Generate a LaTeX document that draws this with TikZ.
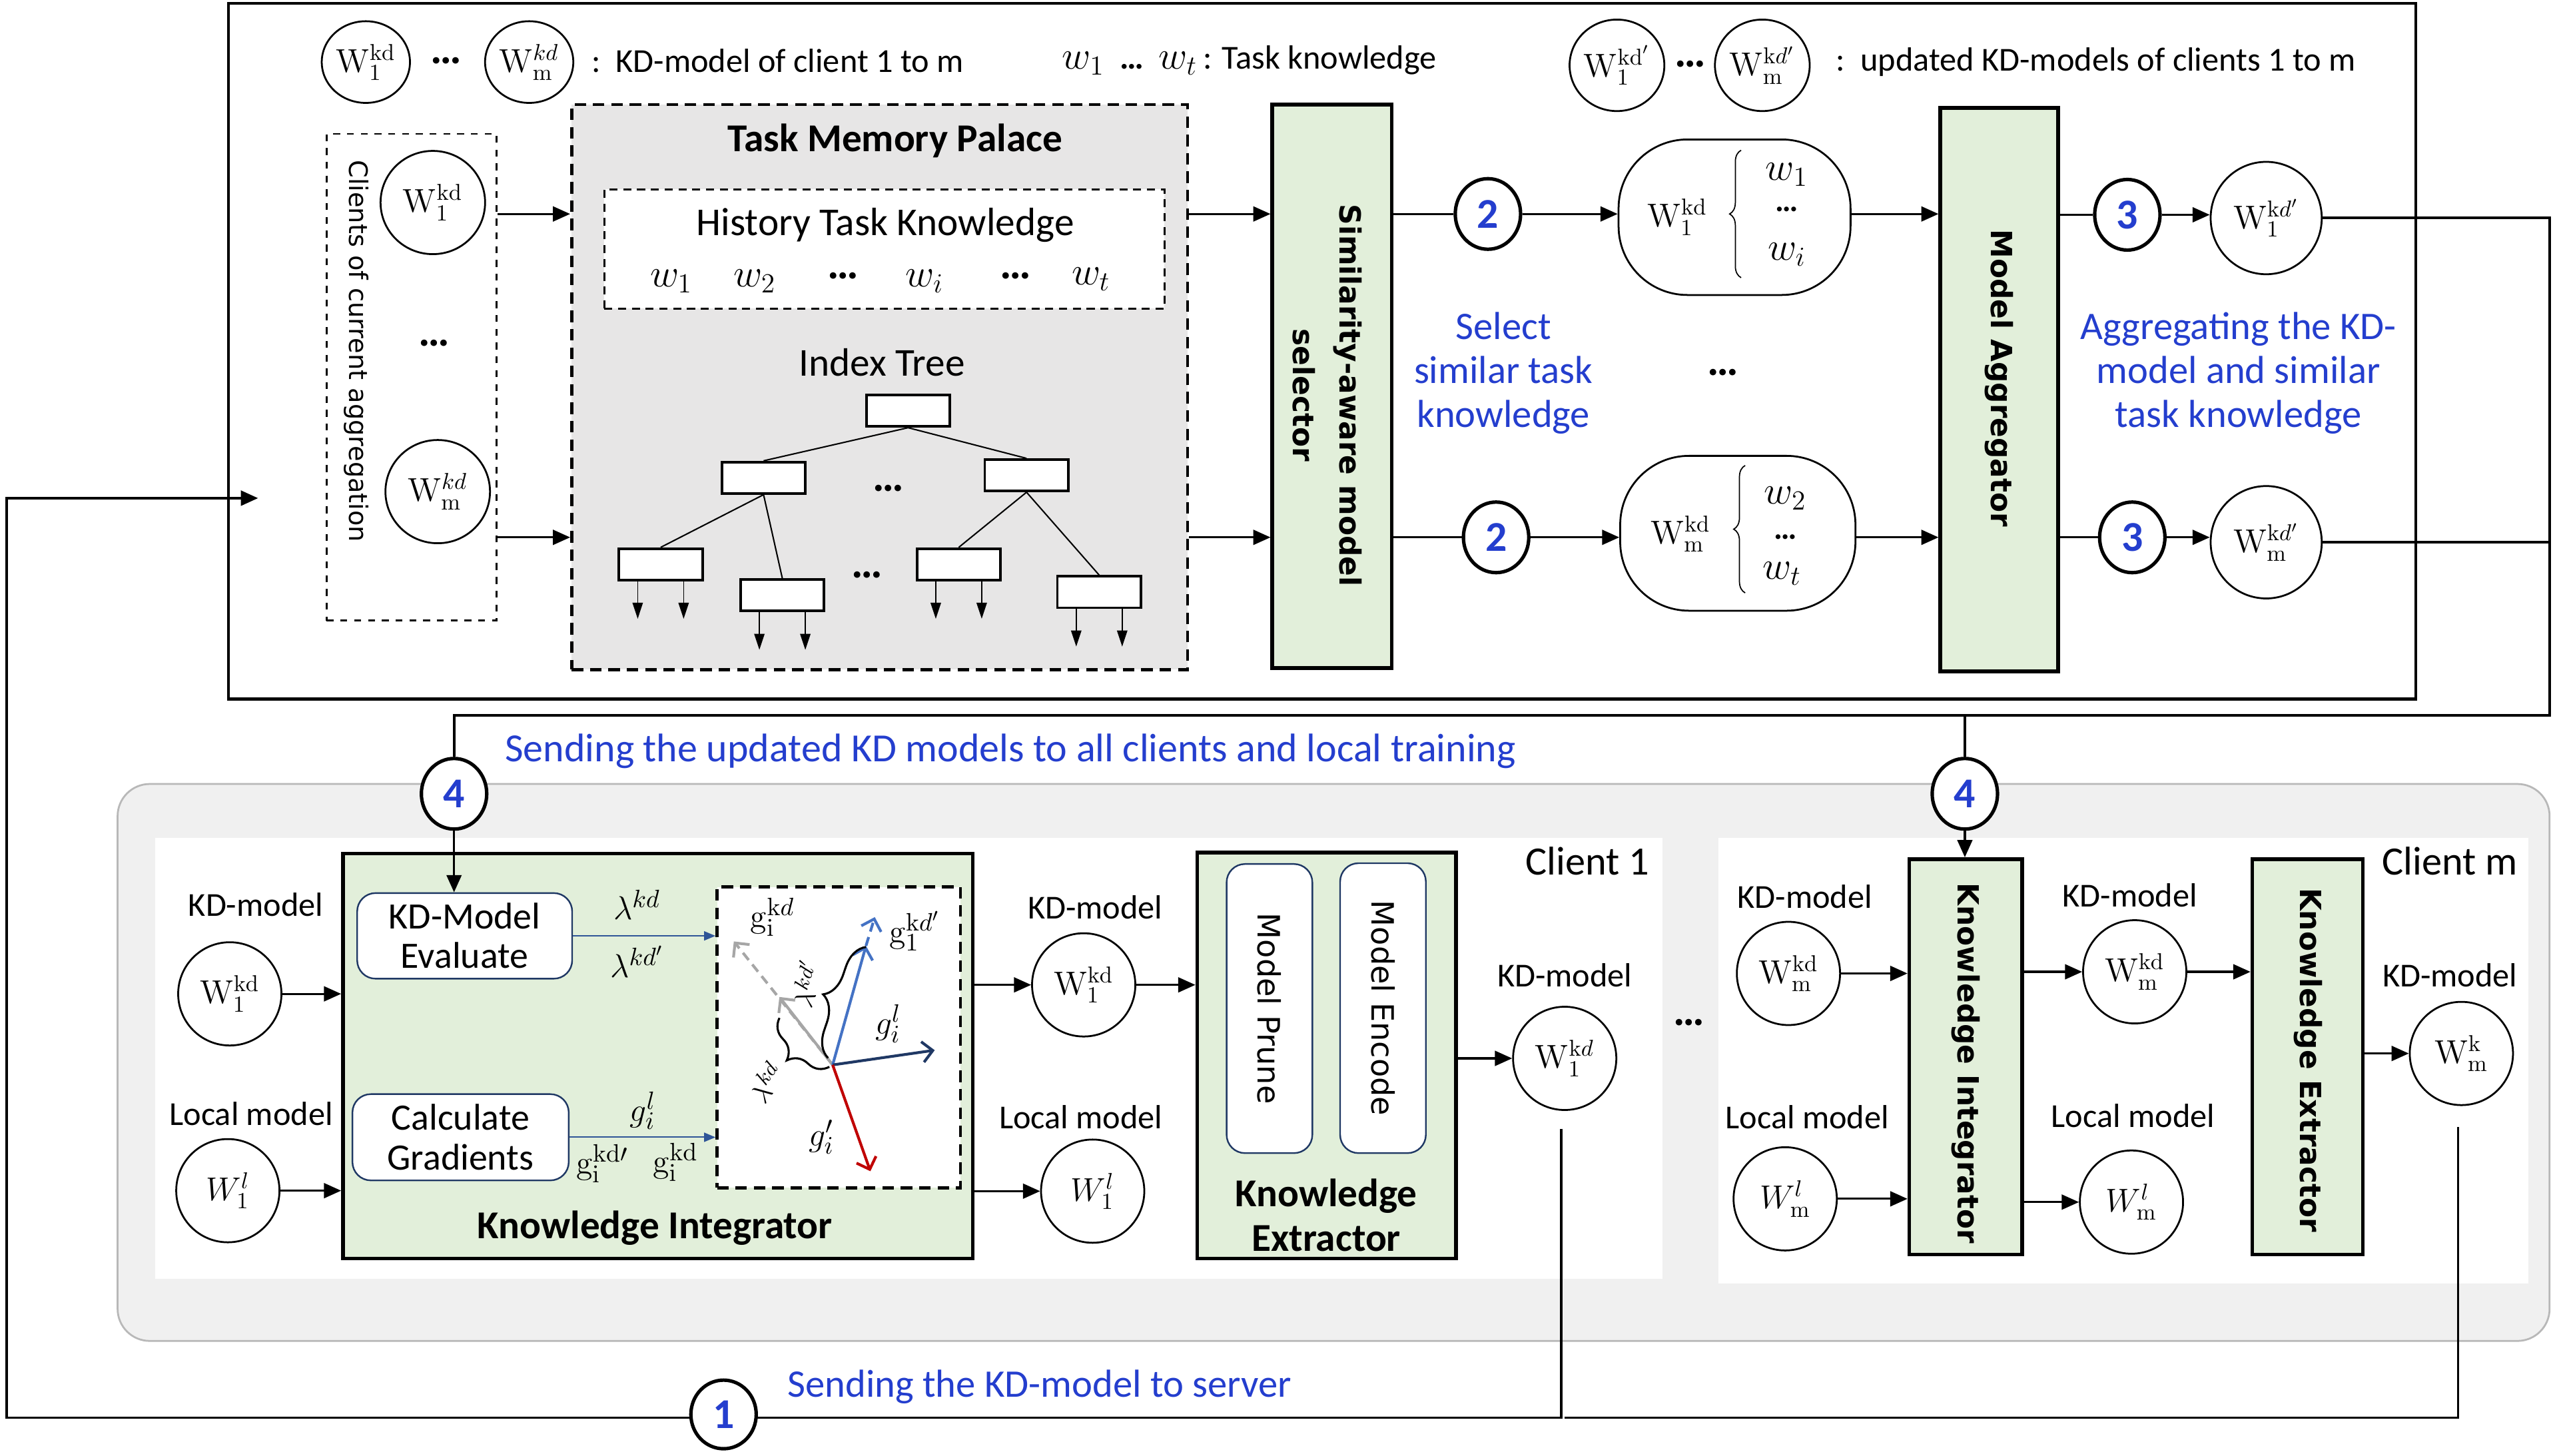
\documentclass[tikz,border=0pt]{standalone}
\usepackage[no-math]{fontspec}
\setmainfont{Carlito}
\newfontfamily\vfont{DejaVu Sans}
\usetikzlibrary{arrows.meta,shapes.geometric,fit,decorations.pathreplacing,calc}

\definecolor{kgreen}{RGB}{226,239,218}
\definecolor{kgray}{RGB}{231,230,230}
\definecolor{kblue}{RGB}{36,62,206}
\definecolor{bgray}{RGB}{240,240,240}
\definecolor{vblue}{RGB}{68,114,196}
\definecolor{vnavy}{RGB}{31,56,100}
\definecolor{vred}{RGB}{192,0,0}
\definecolor{vgray}{RGB}{166,166,166}
\definecolor{bnavy}{RGB}{47,85,151}

\newcommand{\szS}{\fontsize{14.6}{17}\selectfont}
\newcommand{\szM}{\fontsize{17.2}{19.3}\selectfont}
\newcommand{\szW}{\fontsize{14.4}{17}\selectfont}
\newcommand{\szMath}{\fontsize{15.5}{17}\selectfont}
\newcommand{\szBig}{\fontsize{17.28}{19}\selectfont}
\newcommand{\szRot}{\vfont\bfseries\fontsize{12.7}{20.3}\selectfont}

\tikzset{
  every node/.style={inner sep=0pt},
  arr/.style={-{Triangle[length=7.5pt,width=6.5pt]}, line width=0.9pt},
  flow/.style={line width=1.1pt},
  model/.style={draw, ellipse, line width=0.8pt, fill=white, minimum width=1.58cm, minimum height=1.58cm, font=\szW},
  num/.style={draw, ellipse, line width=1.5pt, fill=white, minimum width=1.0cm, minimum height=1.08cm, text=kblue, font=\fontsize{18.5}{20}\selectfont\bfseries},
  gbox/.style={draw, line width=1.6pt, fill=kgreen},
  tbox/.style={draw, line width=1.1pt, fill=white, minimum width=1.28cm, minimum height=0.48cm},
  tarr/.style={-{Triangle[length=7pt,width=4.5pt]}, line width=0.5pt},
  wbox/.style={draw=vnavy, line width=0.7pt, fill=white, rounded corners=8pt},
  barr/.style={-{Triangle[length=5pt,width=4pt]}, line width=0.6pt, draw=bnavy},
  vec/.style={line width=1.2pt, -{Straight Barb[length=4.5pt,width=9pt]}},
  bcap/.style={text=kblue, font=\fontsize{17}{19.2}\selectfont, align=center},
  lab/.style={font=\szS},
  dots/.style={font=\fontsize{19}{20}\selectfont\bfseries},
  kbox/.style={draw, line width=0.8pt, fill=white, rounded corners=30pt},
  brc/.style={decorate, decoration={brace, amplitude=5pt}, line width=0.5pt},
}

\begin{document}
\begin{tikzpicture}[x=0.025cm,y=-0.025cm]
\useasboundingbox[fill=white] (0,0) rectangle (1568,891.46);

% server frame
\node[draw, line width=1.2pt, fit={(140,2) (1479,428)}] (server) {};

% client area
\node[draw=black!28, line width=0.8pt, fill=bgray, rounded corners=14pt, fit={(72,480) (1561,821)}] (carea) {};
\node[fill=white, fit={(95,513) (1018,783)}] (cl1) {};
\node[fill=white, fit={(1052,513) (1548,786)}] (clm) {};

% legend
\node[model, minimum width=1.35cm, minimum height=1.25cm] (lgA) at (224,38) {$\mathrm{W}_1^{\mathrm{kd}}$};
\node[dots] (lgAd) at (273,37) {…};
\node[model, minimum width=1.35cm, minimum height=1.25cm] (lgB) at (324,38) {$\mathrm{W}_{\mathrm{m}}^{kd}$};
\node[lab, anchor=west] (lgAt) at (362,37) {:\ \ KD-model of client 1 to m};
\node[lab, anchor=west] (lgW) at (650,37) {{\szBig$w_1$}\ \ {\bfseries …}\ \ {\szBig$w_t$}\,: Task knowledge};
\node[model, minimum width=1.45cm, minimum height=1.4cm] (lgC) at (990,40) {$\mathrm{W}_1^{\mathrm{kd}'}$};
\node[dots] (lgCd) at (1035,39) {…};
\node[model, minimum width=1.45cm, minimum height=1.4cm] (lgD) at (1079,40) {$\mathrm{W}_{\mathrm{m}}^{\mathrm{k}d'}$};
\node[lab, anchor=west] (lgDt) at (1124,38) {:\ \ updated KD-models of clients 1 to m};

\coordinate (r1) at (0,131);
\coordinate (r2) at (0,329);

% clients of current aggregation
\node[draw, dashed, line width=0.8pt, fit={(200,82) (304,380)}] (cbox) {};
\node[rotate=-90, font=\vfont\fontsize{11.1}{13}\selectfont] (cboxt) at (218,215) {Clients of current aggregation};
\node[model, minimum width=1.6cm, minimum height=1.58cm] (ca) at (265,124) {$\mathrm{W}_1^{\mathrm{kd}}$};
\node[dots] (cad) at (266,210) {…};
\node[model, minimum width=1.6cm, minimum height=1.58cm] (cb) at (268,301) {$\mathrm{W}_{\mathrm{m}}^{kd}$};

% task memory palace
\node[draw, line width=1.3pt, dash pattern=on 5pt off 3pt, fill=kgray, fit={(350,64) (727,410)}] (tmp) {};
\node[font=\szM\bfseries] (tmpt) at (548,86) {Task Memory Palace};
\node[draw, line width=0.8pt, dash pattern=on 3.5pt off 2.5pt, fill=white, fit={(370,116) (713,189)}] (hist) {};
\node[font=\szM] (histt) at (542,138) {History Task Knowledge};
\node[font=\szBig] (hw1) at (411,172) {$w_1$};
\node[font=\szBig] (hw2) at (462,172) {$w_2$};
\node[dots] (hwd1) at (516,169) {…};
\node[font=\szBig] (hwi) at (566,172) {$w_i$};
\node[dots] (hwd2) at (622,169) {…};
\node[font=\szBig] (hwt) at (668,171) {$w_t$};

\node[font=\szM] (itree) at (540,222) {Index Tree};
\node[tbox] (t0) at (556,251.5) {};
\node[tbox] (t1) at (467.5,292.5) {};
\node[tbox] (t2) at (628.5,291) {};
\node[tbox] (t3) at (404.5,345.5) {};
\node[tbox] (t4) at (479,364.5) {};
\node[tbox] (t5) at (587,345.5) {};
\node[tbox] (t6) at (673,362.5) {};
\node[dots] (td1) at (544,299) {…};
\node[dots] (td2) at (531,352) {…};
\draw[line width=0.6pt] (t0.south) -- (t1.north);
\draw[line width=0.6pt] (t0.south) -- (t2.north);
\draw[line width=0.6pt] (t1.south) -- (t3.north);
\draw[line width=0.6pt] (t1.south) -- (t4.north);
\draw[line width=0.6pt] (t2.south) -- (t5.north);
\draw[line width=0.6pt] (t2.south) -- (t6.north);
\foreach \n in {t3,t4,t5,t6}{
  \draw[tarr] ([xshift=-10pt]\n.south) -- ++(0,23);
  \draw[tarr] ([xshift=10pt]\n.south) -- ++(0,23);
}

\draw[arr] (cbox.east |- r1) -- (tmp.west |- r1);
\draw[arr] (cbox.east |- r2) -- (tmp.west |- r2);

% selector
\node[gbox, fit={(779,64) (852,409)}] (sel) {};
\node[rotate=-90, font=\szRot, align=center] (selt) at (812.5,242) {Similarity-aware model\\selector};
\draw[arr] (tmp.east |- r1) -- (sel.west |- r1);
\draw[arr] (tmp.east |- r2) -- (sel.west |- r2);

\node[num] (c2a) at (911,131) {2};
\node[num] (c2b) at (916,329) {2};
\draw[line width=0.9pt] (sel.east |- c2a) -- (c2a);
\draw[line width=0.9pt] (sel.east |- c2b) -- (c2b);

% selected knowledge nodes
\node[kbox, minimum width=3.55cm, minimum height=2.38cm] (k1) at (1062,133) {};
\node[font=\szW] (k1w) at (1027,133) {$\mathrm{W}_1^{\mathrm{kd}}$};
\draw[brc] (1066,170) -- (1066,92);
\node[font=\szBig] (k1a) at (1094,107) {$w_1$};
\node[dots, font=\fontsize{14}{15}\selectfont\bfseries] (k1b) at (1094,128) {…};
\node[font=\szBig] (k1c) at (1094,156) {$w_i$};

\node[kbox, minimum width=3.6cm, minimum height=2.37cm] (k2) at (1064,326.5) {};
\node[font=\szW] (k2w) at (1029,327) {$\mathrm{W}_{\mathrm{m}}^{\mathrm{kd}}$};
\draw[brc] (1068.5,363) -- (1068.5,285);
\node[font=\szBig] (k2a) at (1093,305) {$w_2$};
\node[dots, font=\fontsize{14}{15}\selectfont\bfseries] (k2b) at (1093,329) {…};
\node[font=\szBig] (k2c) at (1091,351) {$w_t$};

\draw[arr] (c2a) -- (c2a -| k1.west);
\draw[arr] (c2b) -- (c2b -| k2.west);

% aggregator
\node[gbox, fit={(1188,66) (1260,411)}] (agg) {};
\node[rotate=-90, font=\szRot] (aggt) at (1224,231.5) {Model Aggregator};
\draw[arr] (k1.east |- r1) -- (agg.west |- r1);
\draw[arr] (k2.east |- r2) -- (agg.west |- r2);

\node[num] (c3a) at (1302.5,131.5) {3};
\node[num] (c3b) at (1305.5,329) {3};
\draw[line width=0.9pt] (agg.east |- c3a) -- (c3a);
\draw[line width=0.9pt] (agg.east |- c3b) -- (c3b);
\node[model, minimum width=1.7cm, minimum height=1.72cm] (u1) at (1387.5,133.5) {$\mathrm{W}_1^{\mathrm{k}d'}$};
\node[model, minimum width=1.7cm, minimum height=1.72cm] (u2) at (1387.5,332) {$\mathrm{W}_{\mathrm{m}}^{\mathrm{k}d'}$};
\draw[arr] (c3a) -- (c3a -| u1.west);
\draw[arr] (c3b) -- (c3b -| u2.west);

\node[bcap] (cap2) at (920.5,228.5) {Select\\similar task\\knowledge};
\node[dots] (kdots) at (1055,228) {…};
\node[bcap] (cap3) at (1370.5,228.5) {Aggregating the KD-\\model and similar\\task knowledge};

% update flow
\coordinate (cR) at (1561,438);
\node[num] (c4a) at (278,486) {4};
\node[num] (c4b) at (1203,486) {4};
\draw[flow] (u1.east) -- (u1.east -| cR) -- (cR) -- (cR -| c4a) -- (c4a.north);
\draw[flow] (u2.east) -- (u2.east -| cR);
\draw[flow] (cR -| c4b) -- (c4b.north);
\node[bcap, anchor=west, font=\fontsize{17.4}{19.2}\selectfont] (capu) at (309,460) {Sending the updated KD models to all clients and local training};

% ===== client 1 =====
\node[lab] (l1a) at (156.6,554) {KD-model};
\node[model] (m1a) at (140.7,608.5) {$\mathrm{W}_1^{\mathrm{kd}}$};
\node[lab] (l1b) at (153.8,682) {Local model};
\node[model] (m1b) at (139.5,729) {$W_1^{l}$};
\node[gbox, fit={(210,522.5) (595.5,770.5)}] (ki1) {};
\draw[arr] (m1a) -- (m1a -| ki1.west);
\draw[arr] (m1b) -- (m1b -| ki1.west);
\node[wbox, minimum width=3.29cm, minimum height=1.31cm, align=center, font=\fontsize{16.2}{17.2}\selectfont] (eval) at (284.5,573) {KD-Model\\Evaluate};
\node[wbox, minimum width=3.31cm, minimum height=1.32cm, align=center, font=\fontsize{16.2}{17.2}\selectfont] (calc) at (282,696.3) {Calculate\\Gradients};
\draw[arr] (c4a.south) -- (c4a.south |- eval.north);
\node[draw, line width=1.3pt, dash pattern=on 5pt off 3pt, fill=white, fit={(439,543) (588,727.3)}] (vbox) {};
\draw[barr] (eval.east) -- (eval.east -| vbox.west);
\draw[barr] (calc.east) -- (calc.east -| vbox.west);
\node[font=\szMath] (lk1) at (390,554) {$\lambda^{kd}$};
\node[font=\szMath] (lk2) at (390,588.7) {$\lambda^{kd'}$};
\node[font=\szMath] (gl1) at (393.6,680) {$g_i^{l}$};
\node[font=\szMath] (gl2) at (368.7,712.5) {$\mathrm{g}_{\mathrm{i}}^{\mathrm{kd}\prime}$};
\node[font=\szMath] (gl3) at (413.6,711.5) {$\mathrm{g}_{\mathrm{i}}^{\mathrm{kd}}$};
\node[font=\szM\bfseries] (ki1t) at (401,752) {Knowledge Integrator};

% vectors
\coordinate (O) at (509.8,652);
\coordinate (Gg) at (449.3,576.4);
\coordinate (Gm) at (477.2,610.4);
\coordinate (Bm) at (530.2,579.1);
\coordinate (Be) at (535.6,561.5);
\coordinate (Ne) at (572.3,643);
\coordinate (Re) at (532.9,717.1);
\draw[vec, vgray, dash pattern=on 4pt off 2.5pt] (O) -- (Gg);
\draw[vec, vgray] (O) -- (Gm);
\draw[vec, vblue, dash pattern=on 4pt off 2.5pt] (Bm) -- (Be);
\draw[vec, vblue] (O) -- (Bm);
\draw[vec, vnavy] (O) -- (Ne);
\draw[vec, vred] (O) -- (Re);
\draw[decorate, decoration={brace, amplitude=11pt}, line width=0.9pt] (507.8,653.2) -- (477.2,623.2);
\draw[decorate, decoration={brace, amplitude=11pt}, line width=0.9pt] (507,647.8) -- (530.2,579.8);
\node[font=\fontsize{13}{15}\selectfont, rotate=55] (lv1) at (469,662.7) {$\lambda^{kd}$};
\node[font=\fontsize{13}{15}\selectfont, rotate=72] (lv2) at (493.5,602.2) {$\lambda^{kd'}$};
\node[font=\szMath] (gv1) at (473,561.5) {$\mathrm{g}_{\mathrm{i}}^{\mathrm{k}d}$};
\node[font=\szMath] (gv2) at (560,570) {$\mathrm{g}_1^{\mathrm{k}d'}$};
\node[font=\szMath] (gv3) at (543.8,626.7) {$g_i^{l}$};
\node[font=\szMath] (gv4) at (503,696) {$g_i'$};

% outputs of integrator
\node[lab] (l1c) at (670.5,555.7) {KD-model};
\node[model] (m1c) at (663.5,603) {$\mathrm{W}_1^{\mathrm{kd}}$};
\node[lab] (l1d) at (661.8,684) {Local model};
\node[model] (m1d) at (669,729.3) {$W_1^{l}$};
\draw[arr] (ki1.east |- m1c) -- (m1c);
\draw[arr] (ki1.east |- m1d) -- (m1d);

% knowledge extractor 1
\node[gbox, fit={(733,522) (891.5,770.5)}] (kx1) {};
\draw[arr] (m1c) -- (m1c -| kx1.west);
\node[wbox, fit={(751,529) (803.5,706)}] (prune) {};
\node[wbox, fit={(820.5,528.5) (873,706)}] (encode) {};
\node[rotate=-90, font=\vfont\fontsize{13.4}{15}\selectfont] (prunet) at (prune.center) {Model Prune};
\node[rotate=-90, font=\vfont\fontsize{13.4}{15}\selectfont] (encodet) at (encode.center) {Model Encode};
\node[font=\szM\bfseries, align=center] (kx1t) at (812,744) {Knowledge\\Extractor};
\node[lab] (l1e) at (958,597) {KD-model};
\node[model] (m1e) at (958,648) {$\mathrm{W}_1^{\mathrm{k}d}$};
\draw[arr] (kx1.east |- m1e) -- (m1e);
\node[font=\fontsize{17.5}{20}\selectfont] (cl1t) at (972,527) {Client 1};

\node[dots] (cdots) at (1034,626) {…};

% ===== client m =====
\node[font=\fontsize{17.5}{20}\selectfont] (clmt) at (1500,527) {Client m};
\node[lab] (lma) at (1105,549) {KD-model};
\node[model] (mma) at (1095,596) {$\mathrm{W}_{\mathrm{m}}^{\mathrm{kd}}$};
\node[lab] (lmb) at (1106.5,684) {Local model};
\node[model] (mmb) at (1093,734) {$W_{\mathrm{m}}^{l}$};
\node[gbox, fit={(1169,526) (1238,768)}] (ki2) {};
\node[rotate=-90, font=\szRot] (ki2t) at (1203.5,651) {Knowledge Integrator};
\draw[arr] (mma) -- (mma -| ki2.west);
\draw[arr] (mmb) -- (mmb -| ki2.west);
\draw[arr] (c4b.south) -- (c4b.south |- ki2.north);
\node[lab] (lmc) at (1304,548) {KD-model};
\node[model] (mmc) at (1307,595) {$\mathrm{W}_{\mathrm{m}}^{\mathrm{kd}}$};
\node[lab] (lmd) at (1306,683) {Local model};
\node[model] (mmd) at (1305,736) {$W_{\mathrm{m}}^{l}$};
\draw[arr] (ki2.east |- mmc) -- (mmc);
\draw[arr] (ki2.east |- mmd) -- (mmd);
\node[gbox, fit={(1379,526) (1446.6,768)}] (kx2) {};
\node[rotate=-90, font=\szRot] (kx2t) at (1413,649) {Knowledge Extractor};
\draw[arr] (mmc) -- (mmc -| kx2.west);
\node[lab] (lme) at (1500,597) {KD-model};
\node[model] (mme) at (1507,645) {$\mathrm{W}_{\mathrm{m}}^{\mathrm{k}}$};
\draw[arr] (kx2.east |- mme) -- (mme);

% send KD-model to server
\coordinate (bL) at (4,868);
\coordinate (inA) at (158,305);
\draw[arr, flow] ($(m1e.south)+(-2,11)$) |- (bL) |- (inA);
\draw[flow] ($(mme.south)+(-2,13)$) |- (m1e.south |- bL);
\node[num, minimum height=1.05cm] (c1) at (443,866) {1};
\node[bcap, anchor=west] (caps) at (482,849) {Sending the KD-model to server};
\end{tikzpicture}
\end{document}
